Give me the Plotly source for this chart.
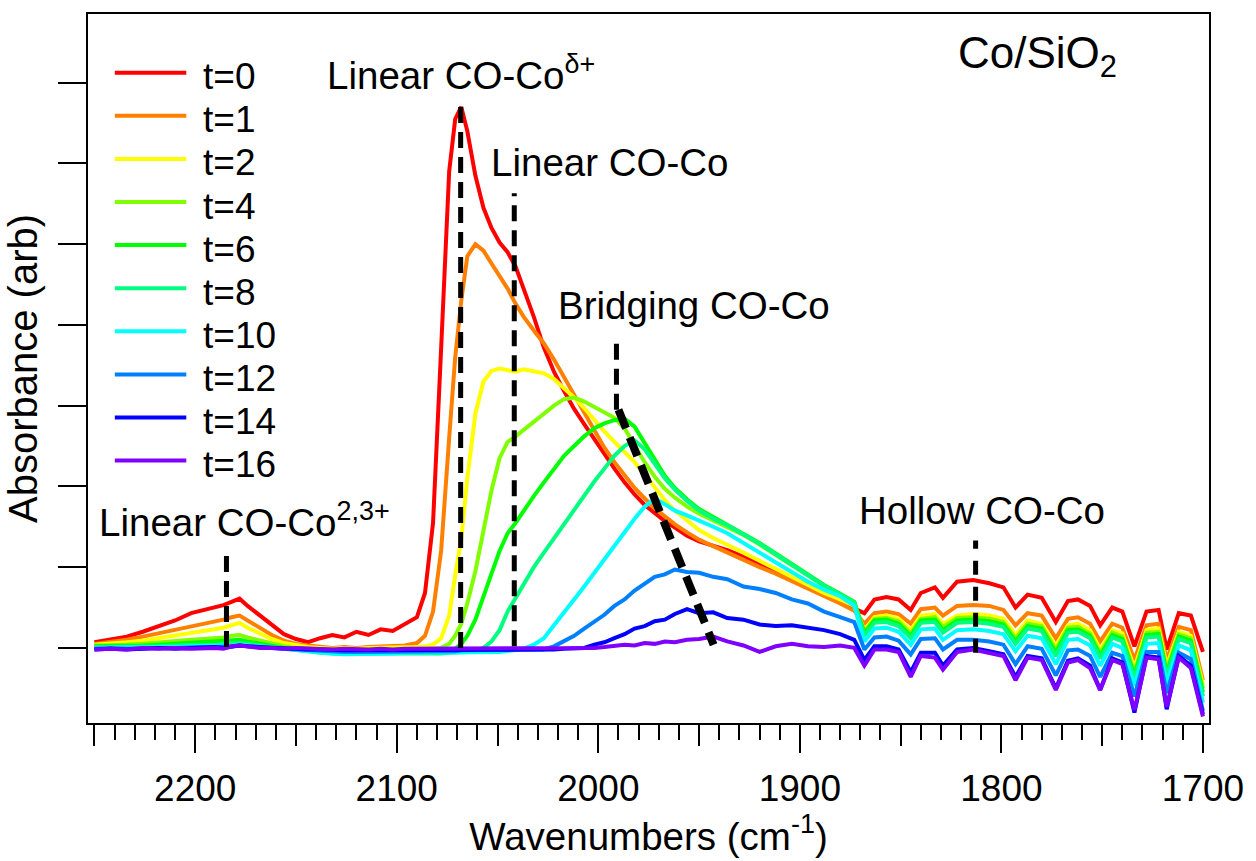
import plotly.graph_objects as go

# ---------------- data ----------------
wavenumber = [
    2250, 2242, 2234, 2226, 2218, 2210, 2202, 2196, 2190, 2186,
    2182, 2178, 2174, 2168, 2162, 2156, 2150, 2144, 2138, 2132,
    2126, 2120, 2114, 2108, 2102, 2096,
    2090, 2086, 2082, 2078, 2074, 2071, 2068, 2065, 2061, 2057,
    2053, 2049, 2045, 2041, 2037, 2032, 2027, 2022, 2017, 2012,
    2007, 2002, 1997, 1992, 1987, 1982, 1977, 1972, 1967, 1962,
    1956, 1950, 1943, 1936, 1928, 1920, 1912, 1904, 1896, 1888,
    1880, 1873,
    1868, 1863, 1857, 1851, 1845, 1840, 1833, 1829, 1822, 1814,
    1806, 1799, 1793, 1787, 1780, 1773, 1767, 1762, 1756, 1751,
    1745, 1740, 1734, 1728, 1722, 1718, 1712, 1706, 1700,
]

t0 = [
    0.07, 0.10, 0.14, 0.20, 0.27, 0.34, 0.43, 0.47, 0.50, 0.53,
    0.57, 0.61, 0.52, 0.40, 0.28, 0.17, 0.11, 0.07, 0.12, 0.16,
    0.13, 0.20, 0.16, 0.23, 0.21, 0.29,
    0.38, 0.68, 1.55, 3.70, 5.90, 6.55, 6.70, 6.40, 5.85, 5.45,
    5.20, 5.02, 4.90, 4.72, 4.45, 4.10, 3.72, 3.42, 3.18, 2.96,
    2.77, 2.58, 2.40, 2.22, 2.05, 1.90, 1.77, 1.67, 1.57, 1.49,
    1.39, 1.32, 1.27, 1.21, 1.13, 1.04, 0.94, 0.85, 0.75, 0.66,
    0.57, 0.48,
    0.43, 0.60, 0.63, 0.60, 0.47, 0.68, 0.75, 0.62, 0.82, 0.84,
    0.80, 0.75, 0.50, 0.66, 0.62, 0.32, 0.58, 0.60, 0.52, 0.28,
    0.50, 0.45, 0.02, 0.45, 0.47, -0.02, 0.43, 0.40, -0.05,
]
t1 = [
    0.05, 0.07, 0.10, 0.14, 0.18, 0.22, 0.27, 0.30, 0.32, 0.35,
    0.38, 0.40, 0.34, 0.25, 0.16, 0.09, 0.05, 0.03, 0.01, 0.00,
    0.01, 0.00, 0.01, 0.02, 0.02, 0.03,
    0.06, 0.15, 0.45, 1.20, 2.60, 3.60, 4.30, 4.85, 5.00, 4.92,
    4.76, 4.60, 4.45, 4.26, 4.10, 3.93, 3.77, 3.57, 3.35, 3.14,
    2.93, 2.70, 2.48, 2.30, 2.13, 1.98, 1.85, 1.73, 1.63, 1.53,
    1.43, 1.34, 1.26, 1.18, 1.09, 1.00, 0.92, 0.83, 0.74, 0.64,
    0.55, 0.46,
    0.30, 0.43, 0.45, 0.42, 0.30, 0.48, 0.50, 0.40, 0.52, 0.53,
    0.52, 0.47, 0.28, 0.43, 0.40, 0.12, 0.36, 0.38, 0.30, 0.08,
    0.30, 0.25, -0.15, 0.28, 0.30, -0.15, 0.26, 0.22, -0.40,
]
t2 = [
    0.04, 0.05, 0.07, 0.09, 0.12, 0.15, 0.18, 0.21, 0.23, 0.25,
    0.28, 0.31, 0.25, 0.18, 0.11, 0.06, 0.03, 0.01, 0.00, -0.01,
    0.00, -0.01, 0.00, 0.00, 0.00, 0.01,
    0.01, 0.02, 0.04, 0.12, 0.40, 0.90, 1.35, 2.10, 2.90, 3.30,
    3.43, 3.46, 3.44, 3.42, 3.45, 3.43, 3.40, 3.33, 3.22, 3.10,
    2.97, 2.82, 2.68, 2.55, 2.42, 2.30, 2.15, 1.98, 1.83, 1.70,
    1.58, 1.46, 1.36, 1.28, 1.18, 1.08, 0.98, 0.88, 0.78, 0.68,
    0.60, 0.52,
    0.22, 0.38, 0.40, 0.36, 0.22, 0.40, 0.42, 0.30, 0.40, 0.42,
    0.40, 0.36, 0.16, 0.34, 0.30, 0.02, 0.28, 0.30, 0.22, -0.02,
    0.22, 0.18, -0.25, 0.22, 0.24, -0.22, 0.20, 0.15, -0.45,
]
t4 = [
    0.03, 0.03, 0.04, 0.05, 0.07, 0.08, 0.10, 0.11, 0.12, 0.13,
    0.15, 0.16, 0.13, 0.09, 0.05, 0.02, 0.00, -0.01, -0.02, -0.03,
    -0.03, -0.03, -0.04, -0.03, -0.03, -0.02,
    -0.02, -0.02, -0.01, 0.00, 0.05, 0.15, 0.30, 0.55, 0.95, 1.45,
    1.95, 2.35, 2.55, 2.62, 2.70, 2.80, 2.90, 3.00, 3.08, 3.10,
    3.05, 2.98, 2.92, 2.85, 2.72, 2.50, 2.30, 2.12, 1.97, 1.86,
    1.75, 1.66, 1.58, 1.50, 1.40, 1.28, 1.15, 1.02, 0.90, 0.77,
    0.66, 0.56,
    0.20, 0.36, 0.37, 0.33, 0.18, 0.36, 0.38, 0.26, 0.37, 0.38,
    0.36, 0.32, 0.12, 0.30, 0.27, -0.02, 0.25, 0.26, 0.18, -0.06,
    0.19, 0.14, -0.30, 0.19, 0.20, -0.27, 0.17, 0.12, -0.50,
]
t6 = [
    0.02, 0.02, 0.03, 0.03, 0.04, 0.05, 0.06, 0.07, 0.08, 0.08,
    0.09, 0.10, 0.08, 0.05, 0.02, 0.00, -0.02, -0.03, -0.04, -0.05,
    -0.05, -0.06, -0.06, -0.05, -0.05, -0.05,
    -0.05, -0.05, -0.05, -0.04, -0.03, -0.01, 0.05, 0.15, 0.35, 0.62,
    0.92, 1.20, 1.42, 1.55, 1.70, 1.88, 2.05, 2.22, 2.38, 2.50,
    2.62, 2.72, 2.78, 2.82, 2.84, 2.74, 2.53, 2.32, 2.13, 1.98,
    1.84, 1.72, 1.62, 1.53, 1.42, 1.30, 1.17, 1.04, 0.91, 0.78,
    0.67, 0.57,
    0.18, 0.34, 0.35, 0.30, 0.15, 0.34, 0.35, 0.22, 0.34, 0.35,
    0.33, 0.29, 0.08, 0.27, 0.24, -0.06, 0.22, 0.23, 0.15, -0.10,
    0.16, 0.11, -0.34, 0.16, 0.17, -0.31, 0.14, 0.09, -0.55,
]
t8 = [
    0.01, 0.01, 0.02, 0.02, 0.02, 0.03, 0.03, 0.04, 0.04, 0.05,
    0.06, 0.06, 0.05, 0.03, 0.01, -0.01, -0.03, -0.05, -0.06, -0.07,
    -0.07, -0.08, -0.08, -0.08, -0.07, -0.07,
    -0.07, -0.07, -0.07, -0.07, -0.06, -0.06, -0.05, -0.05, -0.04, 0.00,
    0.08, 0.22, 0.45, 0.62, 0.80, 1.00, 1.18, 1.36, 1.54, 1.72,
    1.90, 2.06, 2.22, 2.38, 2.50, 2.57, 2.46, 2.28, 2.10, 1.96,
    1.82, 1.70, 1.60, 1.52, 1.41, 1.29, 1.16, 1.03, 0.90, 0.77,
    0.66, 0.56,
    0.15, 0.31, 0.32, 0.27, 0.12, 0.31, 0.32, 0.19, 0.31, 0.32,
    0.30, 0.26, 0.05, 0.24, 0.21, -0.10, 0.19, 0.20, 0.12, -0.13,
    0.13, 0.08, -0.38, 0.13, 0.14, -0.35, 0.11, 0.06, -0.60,
]
t10 = [
    0.00, 0.00, 0.01, 0.01, 0.01, 0.01, 0.02, 0.02, 0.02, 0.03,
    0.03, 0.04, 0.03, 0.02, 0.00, -0.02, -0.03, -0.05, -0.06, -0.07,
    -0.08, -0.08, -0.08, -0.07, -0.07, -0.06,
    -0.06, -0.06, -0.06, -0.06, -0.06, -0.05, -0.05, -0.05, -0.05, -0.05,
    -0.05, -0.05, -0.04, -0.03, -0.01, 0.04, 0.12, 0.28, 0.45, 0.60,
    0.76, 0.93, 1.10, 1.27, 1.44, 1.60, 1.75, 1.85, 1.78, 1.70,
    1.64, 1.58, 1.50, 1.42, 1.30, 1.18, 1.05, 0.94, 0.82, 0.72,
    0.64, 0.52,
    0.08, 0.24, 0.25, 0.20, 0.04, 0.23, 0.24, 0.10, 0.22, 0.23,
    0.21, 0.17, -0.04, 0.15, 0.12, -0.20, 0.10, 0.11, 0.03, -0.22,
    0.05, 0.00, -0.47, 0.05, 0.06, -0.44, 0.03, -0.03, -0.68,
]
t12 = [
    -0.01, 0.00, -0.01, 0.00, 0.00, 0.00, 0.01, 0.01, 0.01, 0.01,
    0.02, 0.03, 0.02, 0.01, 0.00, -0.01, -0.02, -0.03, -0.04, -0.04,
    -0.05, -0.05, -0.05, -0.05, -0.04, -0.04,
    -0.04, -0.04, -0.04, -0.04, -0.04, -0.04, -0.03, -0.03, -0.03, -0.03,
    -0.03, -0.03, -0.03, -0.03, -0.03, -0.03, -0.02, 0.02, 0.08, 0.15,
    0.24, 0.33, 0.41, 0.52, 0.60, 0.71, 0.79, 0.88, 0.91, 0.97,
    0.94, 0.93, 0.88, 0.85, 0.76, 0.73, 0.68, 0.60, 0.55, 0.45,
    0.38, 0.32,
    -0.02, 0.13, 0.14, 0.09, -0.08, 0.11, 0.12, -0.02, 0.10, 0.10,
    0.08, 0.04, -0.20, 0.02, -0.01, -0.34, -0.03, -0.02, -0.10, -0.36,
    -0.06, -0.10, -0.60, -0.05, -0.05, -0.56, -0.06, -0.14, -0.78,
]
t14 = [
    -0.02, -0.01, -0.02, -0.01, 0.00, -0.01, 0.00, 0.00, 0.01, 0.00,
    0.02, 0.03, 0.02, 0.01, 0.00, -0.01, -0.01, -0.02, -0.02, -0.03,
    -0.03, -0.03, -0.03, -0.03, -0.03, -0.03,
    -0.03, -0.03, -0.03, -0.03, -0.03, -0.03, -0.02, -0.02, -0.02, -0.02,
    -0.02, -0.02, -0.02, -0.02, -0.02, -0.02, -0.02, -0.02, -0.01, -0.01,
    0.00, 0.04, 0.07, 0.12, 0.17, 0.24, 0.27, 0.33, 0.35, 0.42,
    0.48, 0.43, 0.44, 0.37, 0.35, 0.29, 0.27, 0.28, 0.25, 0.22,
    0.17, 0.10,
    -0.15, 0.02, 0.02, -0.02, -0.30, -0.06, -0.06, -0.22, -0.02, 0.00,
    -0.04, -0.08, -0.36, -0.10, -0.13, -0.50, -0.16, -0.13, -0.22, -0.52,
    -0.13, -0.18, -0.80, -0.10, -0.12, -0.76, -0.10, -0.22, -0.82,
]
t16 = [
    -0.02, -0.01, -0.02, 0.00, -0.01, 0.00, -0.01, 0.00, 0.00, -0.01,
    0.02, 0.03, 0.02, 0.00, 0.00, -0.01, 0.00, -0.01, -0.01, -0.02,
    -0.01, -0.02, -0.02, -0.01, -0.02, -0.01,
    -0.01, -0.01, -0.01, -0.01, -0.01, -0.01, 0.00, -0.01, 0.00, -0.01,
    0.00, -0.01, 0.00, 0.00, -0.01, 0.00, -0.01, 0.00, 0.00, -0.01,
    0.00, 0.00, 0.01, 0.03, 0.04, 0.03, 0.06, 0.05, 0.08, 0.07,
    0.10, 0.11, 0.14, 0.08, 0.03, -0.05, 0.02, 0.05, 0.02, 0.01,
    0.03, 0.00,
    -0.22, -0.02, -0.02, -0.05, -0.36, -0.10, -0.12, -0.27, -0.05, -0.02,
    -0.06, -0.10, -0.40, -0.12, -0.15, -0.52, -0.18, -0.15, -0.25, -0.52,
    -0.15, -0.20, -0.77, -0.12, -0.14, -0.73, -0.12, -0.25, -0.85,
]

series_names = ["t=0", "t=1", "t=2", "t=4", "t=6", "t=8", "t=10", "t=12", "t=14", "t=16"]
series_values = [t0, t1, t2, t4, t6, t8, t10, t12, t14, t16]
series_colors = ["#ff0000", "#ff8000", "#ffff00", "#80ff00", "#00ff00",
                 "#00ff80", "#00ffff", "#0080ff", "#0000ff", "#8000ff"]

# dashed band-assignment guide lines (wavenumber, absorbance)
guide_x0 = [2184.5, 2068.3, 2041.7, 1991.0, 1990.0, 1812.8]
guide_x1 = [2184.5, 2068.3, 2041.7, 1991.0, 1942.8, 1812.8]
guide_y0 = [0.01, 0.00, 0.02, 2.95, 2.95, -0.06]
guide_y1 = [1.23, 6.73, 5.63, 3.80, 0.04, 1.33]

band_labels = ["Linear CO-Co<sup>2,3+</sup>", "Linear CO-Co<sup>δ+</sup>", "Linear CO-Co",
               "Bridging CO-Co", "Hollow CO-Co"]
sample_label = "Co/SiO<sub>2</sub>"

for s in series_values:
    assert len(s) == len(wavenumber), len(s)

# ---------------- layout constants ----------------
FONT = "Liberation Sans, Arial, sans-serif"
W, H = 1256, 861
ML, MR, MT, MB = 88, 39, 14, 138
X_RANGE = [2253.2, 1697.0]
Y_RANGE = [-0.93, 7.85]


def px_x(px):
    return (px - ML) / (W - ML - MR)


def px_y(py):
    return (H - MB - py) / (H - MT - MB)


fig = go.Figure()

for name, vals, color in zip(series_names, series_values, series_colors):
    fig.add_trace(go.Scatter(
        x=wavenumber, y=vals, mode="lines", name=name,
        line=dict(color=color, width=4), showlegend=False,
    ))

guide_widths = [5, 5, 5, 5, 8, 5]
guide_dash = ["16px,9px", "16px,9px", "16px,9px", "16px,9px", "20px,10px", "14px,12px"]
for x0, x1, y0, y1, w, d in zip(guide_x0, guide_x1, guide_y0, guide_y1, guide_widths, guide_dash):
    fig.add_trace(go.Scatter(
        x=[x0, x1], y=[y0, y1], xaxis="x2", yaxis="y", mode="lines",
        line=dict(color="black", width=w, dash=d), showlegend=False, hoverinfo="skip",
    ))

annotations = []
# band labels: (left px, bottom px)
label_pos = [(97, 546), (327, 99), (492, 186), (559, 329), (862, 534)]
for text, (lx, by) in zip(band_labels, label_pos):
    annotations.append(dict(
        text=text, x=px_x(lx), y=px_y(by), xref="paper", yref="paper",
        xanchor="left", yanchor="bottom", showarrow=False,
        font=dict(family=FONT, size=38.5, color="black"),
    ))
annotations.append(dict(
    text=sample_label, x=px_x(962), y=px_y(86), xref="paper", yref="paper",
    xanchor="left", yanchor="bottom", showarrow=False,
    font=dict(family=FONT, size=44, color="black"),
))

# manual legend
shapes = []
for i, (name, color) in enumerate(zip(series_names, series_colors)):
    row = 72.7 + 43.1 * i
    shapes.append(dict(
        type="line", xref="paper", yref="paper",
        x0=px_x(115), x1=px_x(187), y0=px_y(row), y1=px_y(row),
        line=dict(color=color, width=4),
    ))
    annotations.append(dict(
        text=name, x=px_x(202), y=px_y(row + 4), xref="paper", yref="paper",
        xanchor="left", yanchor="middle", showarrow=False,
        font=dict(family=FONT, size=37, color="black"),
    ))

fig.update_layout(
    width=W, height=H,
    margin=dict(l=ML, r=MR, t=MT, b=MB, pad=0),
    paper_bgcolor="white", plot_bgcolor="white",
    font=dict(family=FONT, size=37, color="black"),
    showlegend=False,
    annotations=annotations,
    shapes=shapes,
    xaxis=dict(
        range=X_RANGE, showgrid=False, zeroline=False,
        showline=True, linewidth=2, linecolor="black", mirror=True,
        tickmode="linear", tick0=2250, dtick=100,
        ticks="outside", ticklen=21, tickwidth=2, tickcolor="black",
        showticklabels=False,
        minor=dict(ticks="outside", ticklen=15, tickwidth=2, tickcolor="black",
                   tickmode="linear", tick0=2250, dtick=10, showgrid=False),
    ),
    xaxis2=dict(
        range=X_RANGE, overlaying="x", anchor="y", side="bottom",
        showgrid=False, zeroline=False, showline=False,
        tickmode="linear", tick0=2200, dtick=100,
        ticks="outside", ticklen=29, tickwidth=2, tickcolor="black",
        showticklabels=True, ticklabelstandoff=4,
        tickfont=dict(family=FONT, size=37, color="black"),
        title=dict(text="Wavenumbers (cm<sup>-1</sup>)",
                   font=dict(family=FONT, size=38.5, color="black"), standoff=10),
    ),
    yaxis=dict(
        range=Y_RANGE, showgrid=False, zeroline=False,
        showline=True, linewidth=2, linecolor="black", mirror=True,
        tickmode="linear", tick0=0, dtick=1,
        ticks="outside", ticklen=28, tickwidth=2, tickcolor="black",
        showticklabels=False,
        title=dict(text="Absorbance (arb)",
                   font=dict(family=FONT, size=40, color="black"), standoff=8),
    ),
)

fig.write_html("out.html")
